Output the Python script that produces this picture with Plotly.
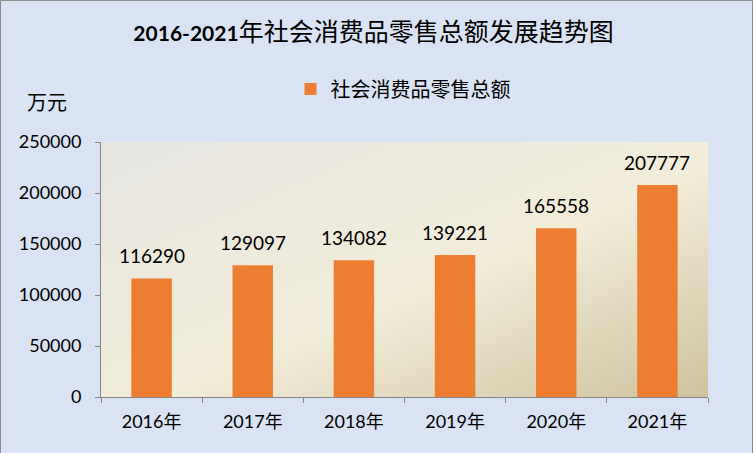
import base64
import plotly.graph_objects as go

years = ["2016年", "2017年", "2018年", "2019年", "2020年", "2021年"]
sales = [116290, 129097, 134082, 139221, 165558, 207777]
series_name = "社会消费品零售总额"
title_text = "<b>2016-2021</b><span style='font-size:25px'>年社会消费品零售总额发展趋势图</span>"

W, H = 753, 453
ml, mr, mt, mb = 101, 45, 142, 56
pw, ph = W - ml - mr, H - mt - mb

font = "Lato, Noto Sans CJK SC, sans-serif"

# diagonal beige gradient for the plot area
svg = (
    "<svg xmlns='http://www.w3.org/2000/svg' width='600' height='250' preserveAspectRatio='none'>"
    "<defs><linearGradient id='g' x1='0' y1='0' x2='1' y2='1'>"
    "<stop offset='0' stop-color='#e6e5e2'/>"
    "<stop offset='0.55' stop-color='#f2edd9'/>"
    "<stop offset='1' stop-color='#cfc29f'/>"
    "</linearGradient></defs>"
    "<rect width='600' height='250' fill='url(#g)'/></svg>"
)
bg_src = "data:image/svg+xml;base64," + base64.b64encode(svg.encode()).decode()

fig = go.Figure()
fig.add_trace(go.Bar(
    x=years, y=sales, name=series_name,
    marker=dict(color="#ed7d31", line_width=0),
    width=0.4, hoverinfo="skip",
))

# value labels above the bars
for yr, v in zip(years, sales):
    fig.add_annotation(x=yr, y=v, text=str(v), showarrow=False,
                       yanchor="bottom", yshift=9,
                       font=dict(size=19, color="#000000", family=font))

fig.add_layout_image(dict(
    source=bg_src, xref="paper", yref="paper", x=0, y=1,
    sizex=1, sizey=1, sizing="stretch", layer="below",
    xanchor="left", yanchor="top",
))

# outer border of the chart
fig.add_shape(type="rect", xref="paper", yref="paper",
              x0=(0.5 - ml) / pw, x1=(W - 0.5 - ml) / pw,
              y0=(mb - H + 0.5) / ph, y1=(H - 0.5 - mb) / ph,
              line=dict(color="#8a8a8a", width=1), fillcolor="rgba(0,0,0,0)",
              layer="below")

fig.add_annotation(text="万元", xref="paper", yref="paper",
                   x=(47 - ml) / pw, y=(H - mb - 102) / ph,
                   xanchor="center", yanchor="middle",
                   showarrow=False, font=dict(size=20, color="#000000", family=font))

fig.update_layout(
    width=W, height=H,
    margin=dict(l=ml, r=mr, t=mt, b=mb),
    paper_bgcolor="#dae3f3",
    plot_bgcolor="rgba(0,0,0,0)",
    font=dict(family=font, color="#000000", size=18),
    title=dict(text=title_text, xref="container", x=373.5 / W, xanchor="center",
               y=1 - 34 / H, yanchor="middle",
               font=dict(size=21, color="#000000", family=font)),
    showlegend=True,
    legend=dict(orientation="h", xref="paper", yref="paper",
                x=(403 - ml) / pw, xanchor="center",
                y=(H - mb - 89) / ph, yanchor="middle",
                bgcolor="rgba(0,0,0,0)",
                font=dict(size=20, color="#000000", family=font)),
)

fig.update_xaxes(
    type="category", tickson="boundaries", ticks="outside", ticklen=5,
    tickcolor="#868686", showline=True, linecolor="#868686", linewidth=1,
    showgrid=False, tickfont=dict(size=18, color="#000000"),
    ticklabelstandoff=8,
)
fig.update_yaxes(
    range=[0, 250000], dtick=50000, tick0=0, ticks="outside", ticklen=5,
    tickcolor="#868686", showline=True, linecolor="#868686", linewidth=1,
    showgrid=False, zeroline=False, tickfont=dict(size=18, color="#000000"),
    tickformat="d", ticklabelstandoff=10,
)

fig.write_html("out.html", config={"displayModeBar": False},
               post_script="document.body.style.margin='0';")
